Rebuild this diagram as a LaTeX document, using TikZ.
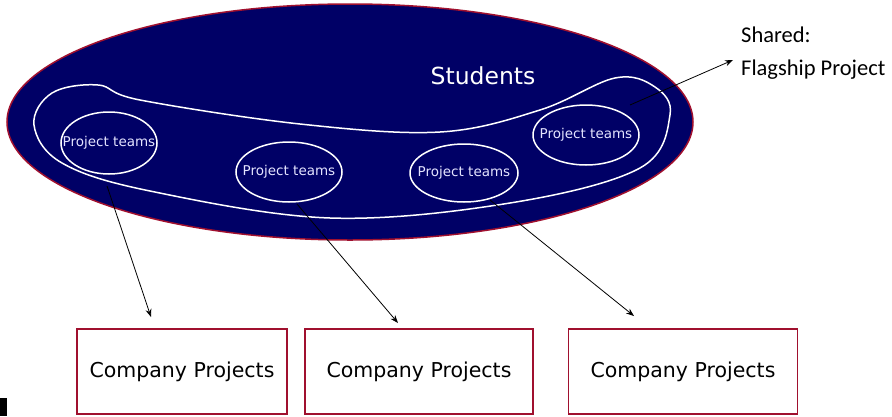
\documentclass[tikz,border=0pt]{standalone}
\usepackage{fontspec}
\setmainfont{DejaVu Sans}
\newfontfamily\calib{Carlito}
\usetikzlibrary{shapes.geometric,arrows.meta}
\definecolor{navyfill}{HTML}{000066}
\definecolor{redline}{HTML}{A0102E}
\definecolor{teamtext}{HTML}{E4E4FF}
\begin{document}
\begin{tikzpicture}[x=1pt,y=-1pt,
  teamlab/.style={inner sep=0pt,font=\fontsize{13.5}{15}\selectfont,text=teamtext},
  teamline/.style={draw=white,line width=1.5pt},
  compbox/.style={rectangle,draw=redline,line width=1.5pt,minimum height=85pt,
    font=\fontsize{20.5}{23}\selectfont},
  arr/.style={-{Stealth[length=8pt,width=6pt]},line width=0.8pt}]
\useasboundingbox (0,0) rectangle (892,416);
% big students ellipse
\node[ellipse,draw=redline,line width=1.5pt,fill=navyfill,minimum width=686pt,minimum height=236pt,inner sep=0pt] (stud) at (350,122) {};
\node[text=white,font=\fontsize{23.5}{26}\selectfont] (studlab) at (483,76) {Students};
% inner blob
\draw[white,line width=1.5pt] plot[smooth cycle,tension=0.6] coordinates {
 (34,125) (52,93) (98,85) (140,100) (300,124) (440,132) (540,110) (615,78) (655,87) (670,115) (640,168) (510,203) (330,218) (150,191) (62,163)};
% project teams
\node[teamlab] (t1) at (109,143) {Project teams};
\node[teamlab] (t2) at (289,172) {Project teams};
\node[teamlab] (t3) at (464,173) {Project teams};
\node[teamlab] (t4) at (586,135) {Project teams};
\draw[teamline] (t1.center) ellipse [x radius=48, y radius=31];
\draw[teamline] (t2.center) ellipse [x radius=53, y radius=30];
\draw[teamline] (t3.center) ellipse [x radius=54, y radius=29];
\draw[teamline] (t4.center) ellipse [x radius=53, y radius=30];
% company boxes
\node[compbox,minimum width=210pt] (c1) at (182,371.5) {Company Projects};
\node[compbox,minimum width=228pt] (c2) at (419,371.5) {Company Projects};
\node[compbox,minimum width=229pt] (c3) at (683,371.5) {Company Projects};
% shared text
\node[anchor=west,font=\calib\fontsize{22.5}{26}\selectfont,inner sep=0pt] (shared) at (741,35) {Shared:};
\node[anchor=west,font=\calib\fontsize{22.5}{26}\selectfont,inner sep=0pt] (flag) at (741,70) {Flagship Project};
% arrow endpoints
\coordinate (s1) at (107,186);
\coordinate (e1) at (151,317);
\coordinate (s2) at (297,204);
\coordinate (e2) at (398,323);
\coordinate (s3) at (490,200);
\coordinate (e3) at (634,316);
\coordinate (s4) at (630,105);
\coordinate (e4) at (733,60);
\draw[arr] (s1) -- (e1);
\draw[arr] (s2) -- (e2);
\draw[arr] (s3) -- (e3);
\draw[arr] (s4) -- (e4);
% small black bar at bottom left
\fill[black] (0,398) rectangle (7,416);
\end{tikzpicture}
\end{document}
